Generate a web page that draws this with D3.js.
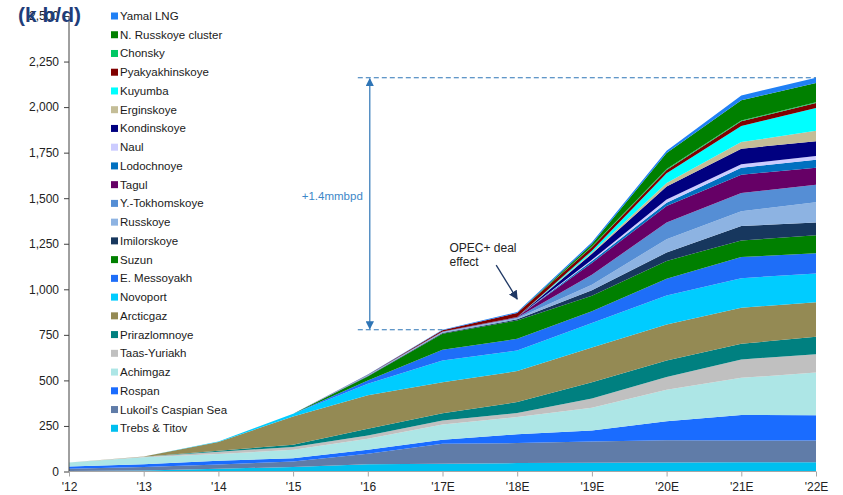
<!DOCTYPE html>
<html><head><meta charset="utf-8">
<script src="https://cdn.jsdelivr.net/npm/d3@7"></script>
<style>
html,body{margin:0;padding:0;background:#fff;}
svg{display:block;font-family:"Liberation Sans",Arial,sans-serif;}
</style></head>
<body>
<svg id="chart" width="843" height="495"></svg>
<script>
// ---- DATA (kb/d) ----
const years = ["'12","'13","'14","'15","'16","'17E","'18E","'19E","'20E","'21E","'22E"];
const yTicks = [0,250,500,750,1000,1250,1500,1750,2000,2250,2500];

const trebsTitov   = [3, 5, 15, 25, 40, 42, 46, 48, 50, 51, 51];
const lukoilCaspian= [12, 20, 24, 30, 58, 110, 110, 117, 122, 119, 119];
const rospan       = [12, 15, 20, 18, 22, 22, 48, 60, 104, 140, 139];
const achimgaz     = [23, 38, 37, 46, 60, 84, 95, 125, 173, 204, 234];
const taasYuriakh  = [0, 3, 13, 15, 18, 22, 22, 50, 69, 101, 101];
const prirazlomnoye= [0, 0, 5, 13, 37, 40, 60, 90, 91, 86, 95];
const arcticgaz    = [0, 2, 48, 155, 183, 170, 170, 190, 198, 198, 190];
const novoport     = [0, 0, 3, 15, 64, 119, 113, 135, 159, 162, 158];
const eMessoyakh   = [0, 0, 0, 0, 18, 59, 64, 65, 92, 116, 111];
const suzun        = [0, 0, 0, 0, 22, 88, 101, 85, 98, 91, 98];
const imilorskoye  = [0, 0, 0, 0, 2, 4, 6, 30, 46, 79, 71];
const russkoye     = [0, 0, 0, 0, 3, 5, 6, 30, 73, 82, 111];
const yTokhomskoye = [0, 0, 0, 0, 2, 2, 4, 55, 91, 99, 96];
const tagul        = [0, 0, 0, 0, 0, 1, 3, 65, 91, 101, 93];
const lodochnoye   = [0, 0, 0, 0, 0, 0, 0, 10, 18, 38, 44];
const naul         = [0, 0, 0, 0, 0, 0, 0, 7, 18, 20, 20];
const kondinskoye  = [0, 0, 0, 0, 0, 0, 0, 33, 71, 85, 81];
const erginskoye   = [0, 0, 0, 0, 0, 0, 0, 7, 19, 36, 58];
const kuyumba      = [0, 0, 0, 0, 0, 0, 0, 10, 54, 88, 125];
const pyakyakhinskoye=[0, 0, 0, 0, 2, 7, 22, 20, 18, 26, 27];
const chonsky      = [0, 0, 0, 0, 0, 0, 0, 3, 5, 4, 4];
const nRusskoye    = [0, 0, 0, 0, 0, 0, 0, 13, 88, 111, 106];
const yamalLNG     = [0, 0, 0, 0, 1, 3, 5, 10, 12, 27, 29];

// stacking order: bottom first
const seriesNames = ["Trebs & Titov","Lukoil's Caspian Sea","Rospan","Achimgaz","Taas-Yuriakh","Prirazlomnoye","Arcticgaz","Novoport","E. Messoyakh","Suzun","Imilorskoye","Russkoye","Y.-Tokhomskoye","Tagul","Lodochnoye","Naul","Kondinskoye","Erginskoye","Kuyumba","Pyakyakhinskoye","Chonsky","N. Russkoye cluster","Yamal LNG"];
const seriesValues = [trebsTitov,lukoilCaspian,rospan,achimgaz,taasYuriakh,prirazlomnoye,arcticgaz,novoport,eMessoyakh,suzun,imilorskoye,russkoye,yTokhomskoye,tagul,lodochnoye,naul,kondinskoye,erginskoye,kuyumba,pyakyakhinskoye,chonsky,nRusskoye,yamalLNG];
const seriesColors = ["#00BFEF","#607CA8","#1A6CFF","#ADE6E6","#C0C0C0","#008080","#948A54","#00CCFF","#1E6EF8","#008000","#17375E","#8DB3E2","#558ED5","#660066","#0070C0","#CCCCFF","#000080","#C4BD97","#00FFFF","#800000","#00C864","#008000","#2080F5"];

// ---- BUILD ----
const svg = d3.select("#chart");
const x = d3.scalePoint().domain(years).range([69, 816]);
const y = d3.scaleLinear().domain([0, 2500]).range([471.5, 16]);

const rows = years.map((yr, i) => {
  const r = {year: yr};
  seriesNames.forEach((n, k) => r[n] = seriesValues[k][i]);
  return r;
});
const stacked = d3.stack().keys(seriesNames)(rows);
const area = d3.area()
  .x(d => x(d.data.year))
  .y0(d => y(d[0]))
  .y1(d => y(d[1]));

svg.append("g").selectAll("path").data(stacked).join("path")
  .attr("d", area)
  .attr("fill", (d, i) => seriesColors[i]);

// axes
const yAxis = svg.append("g").attr("transform", "translate(69,0)")
  .call(d3.axisLeft(y).tickValues(yTicks).tickFormat(d3.format(",")).tickSize(5).tickPadding(5));
yAxis.select(".domain").attr("stroke", "#404040").attr("d", "M0," + y(2500) + "V" + y(0));
yAxis.selectAll(".tick line").attr("stroke", "#404040");
yAxis.selectAll("text").attr("font-size", 12).attr("fill", "#222").attr("font-family", "Liberation Sans, Arial, sans-serif");

const xAxis = svg.append("g").attr("transform", "translate(0," + y(0) + ")")
  .call(d3.axisBottom(x).tickSize(5).tickPadding(6));
xAxis.select(".domain").attr("stroke", "#A6A6A6").attr("d", "M" + x(years[0]) + ",0H" + x(years[years.length-1]));
xAxis.selectAll(".tick line").attr("stroke", "#A6A6A6");
xAxis.selectAll("text").attr("font-size", 12).attr("fill", "#222").attr("font-family", "Liberation Sans, Arial, sans-serif");

// legend (top item = top of stack)
const legendNames = seriesNames.slice().reverse();
const legendColors = seriesColors.slice().reverse();
const lg = svg.append("g").attr("transform", "translate(111,16)");
legendNames.forEach((n, i) => {
  const g = lg.append("g").attr("transform", "translate(0," + (i * 18.74) + ")");
  g.append("rect").attr("x", 0).attr("y", -3.5).attr("width", 7).attr("height", 7).attr("fill", legendColors[i]);
  g.append("text").attr("x", 9).attr("y", 4).attr("font-size", 11.5).attr("fill", "#1a1a1a").text(n);
});

// title
svg.append("text").attr("x", 18).attr("y", 22).attr("font-size", 21).attr("font-weight", "bold")
  .attr("fill", "#1F3D7A").text("(k b/d)");

// annotations
const totals = years.map((yr, i) => d3.sum(seriesValues, s => s[i]));
const iLast = years.length - 1;
const i17 = years.indexOf("'17E"), i18 = years.indexOf("'18E"), i16 = years.indexOf("'16");
const yTop = y(totals[iLast]), yLow = y(totals[i17]);
const xStart = x(years[i16]) - 10;
const annBlue = "#2E75B6";

const defs = svg.append("defs");
function marker(id, color) {
  defs.append("marker").attr("id", id).attr("viewBox", "0 0 10 10").attr("refX", 9).attr("refY", 5)
    .attr("markerWidth", 7).attr("markerHeight", 7).attr("orient", "auto-start-reverse")
    .append("path").attr("d", "M0,0L10,5L0,10z").attr("fill", color);
}
marker("arrBlue", annBlue);
marker("arrNavy", "#1F3864");

svg.append("line").attr("x1", xStart).attr("x2", x(years[iLast])).attr("y1", yTop).attr("y2", yTop)
  .attr("stroke", annBlue).attr("stroke-width", 1.2).attr("stroke-dasharray", "5,3");
svg.append("line").attr("x1", xStart).attr("x2", x(years[i17])).attr("y1", yLow).attr("y2", yLow)
  .attr("stroke", annBlue).attr("stroke-width", 1.2).attr("stroke-dasharray", "5,3");
const xv = x(years[i16]) + 2;
svg.append("line").attr("x1", xv).attr("x2", xv).attr("y1", yTop + 1).attr("y2", yLow - 1)
  .attr("stroke", annBlue).attr("stroke-width", 1.2)
  .attr("marker-start", "url(#arrBlue)").attr("marker-end", "url(#arrBlue)");
svg.append("text").attr("x", xv - 7).attr("y", (yTop + yLow) / 2 - 4).attr("text-anchor", "end")
  .attr("font-size", 11.5).attr("fill", "#3C87C8").text("+1.4mmbpd");

const xo = x(years[i17]) + 7;
svg.append("text").attr("x", xo).attr("y", 252).attr("font-size", 12).attr("fill", "#222").text("OPEC+ deal");
svg.append("text").attr("x", xo).attr("y", 266).attr("font-size", 12).attr("fill", "#222").text("effect");
const tipX = x(years[i18]), tipY = y(totals[i18]) - 13;
svg.append("line").attr("x1", tipX - 21).attr("y1", tipY - 34).attr("x2", tipX).attr("y2", tipY)
  .attr("stroke", "#1F3864").attr("stroke-width", 1.3).attr("marker-end", "url(#arrNavy)");
</script>
</body></html>
